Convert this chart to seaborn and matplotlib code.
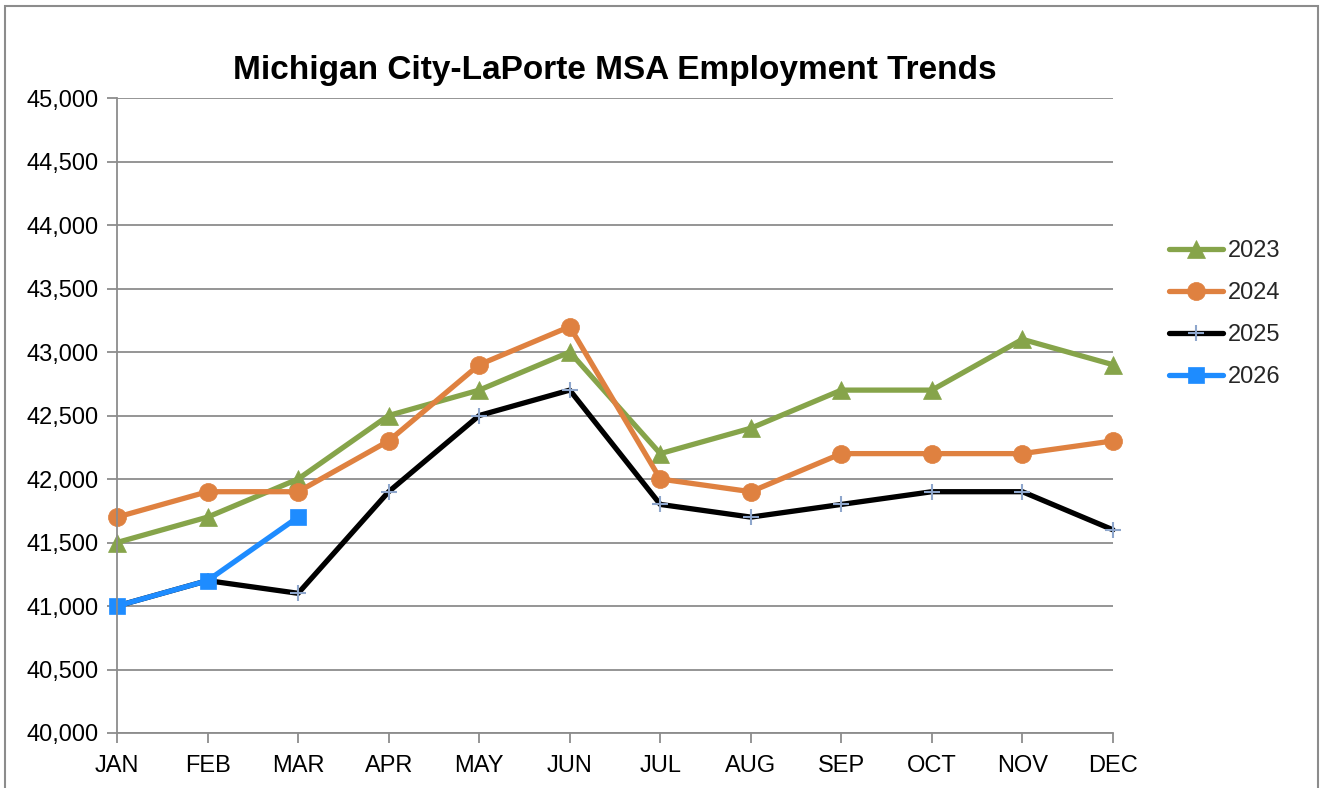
import numpy as np
import pandas as pd
import matplotlib
matplotlib.use('Agg')
import matplotlib.pyplot as plt
from matplotlib.patches import Rectangle
import seaborn as sns

months = ['JAN', 'FEB', 'MAR', 'APR', 'MAY', 'JUN', 'JUL', 'AUG', 'SEP', 'OCT', 'NOV', 'DEC']
emp_2023 = [41500, 41700, 42000, 42500, 42700, 43000, 42200, 42400, 42700, 42700, 43100, 42900]
emp_2024 = [41700, 41900, 41900, 42300, 42900, 43200, 42000, 41900, 42200, 42200, 42200, 42300]
emp_2025 = [41000, 41200, 41100, 41900, 42500, 42700, 41800, 41700, 41800, 41900, 41900, 41600]
emp_2026 = [41000, 41200, 41700]
yticks = list(range(40000, 45001, 500))

series = [('2023', emp_2023, '#86A44A', '^', 13, '#86A44A'),
          ('2024', emp_2024, '#DF8140', 'o', 13, '#DF8140'),
          ('2025', emp_2025, '#000000', '+', 12, '#8EA6CC'),
          ('2026', emp_2026, '#1E8CFF', 's', 12, '#1E8CFF')]

sns.set_style('white')
plt.rcParams['font.family'] = ['Liberation Sans', 'DejaVu Sans']

fig = plt.figure(figsize=(13.24, 7.88), dpi=100)
ax = fig.add_axes([0.0884, 0.0698, 0.7522, 0.8058])

fig.patches.append(Rectangle((5 / 1324, -0.05), 1313 / 1324, 1 - 6 / 788 + 0.05,
                             transform=fig.transFigure, fill=False,
                             edgecolor='#8C8C8C', linewidth=1.5))

for year, vals, color, marker, ms, mec in series:
    df = pd.DataFrame({'x': np.arange(len(vals)), 'y': vals})
    sns.lineplot(data=df, x='x', y='y', ax=ax, color=color, linewidth=3.8,
                 marker=marker, markersize=ms, markeredgecolor=mec,
                 markerfacecolor=color, markeredgewidth=1.5 if marker == '+' else 0.5,
                 label=year, clip_on=False)

ax.set_xlim(0, 11)
ax.set_ylim(40000, 45000)
ax.set_xticks(range(12))
ax.set_xticklabels(months)
ax.set_yticks(yticks)
ax.set_yticklabels([f'{v:,}' for v in yticks])
ax.set_xlabel('')
ax.set_ylabel('')
ax.grid(axis='y', color='#8C8C8C', linewidth=1.3)
ax.set_axisbelow(True)
for s in ['top', 'right']:
    ax.spines[s].set_visible(False)
for s in ['left', 'bottom']:
    ax.spines[s].set_color('#8C8C8C')
    ax.spines[s].set_linewidth(1.3)
ax.tick_params(axis='both', direction='out', length=7, width=1.3, color='#8C8C8C',
               labelsize=17, labelcolor='black', bottom=True, left=True)
ax.tick_params(axis='x', pad=9)
ax.tick_params(axis='y', pad=6)

ax.set_title('Michigan City-LaPorte MSA Employment Trends', fontsize=24,
             fontweight='bold', color='black', pad=14)

leg = ax.legend(loc='center left', bbox_to_anchor=(1.035, 0.66), frameon=False,
                fontsize=17, handlelength=2.3, handletextpad=0.2,
                labelspacing=0.85)

fig.savefig('out.png', dpi=100)
